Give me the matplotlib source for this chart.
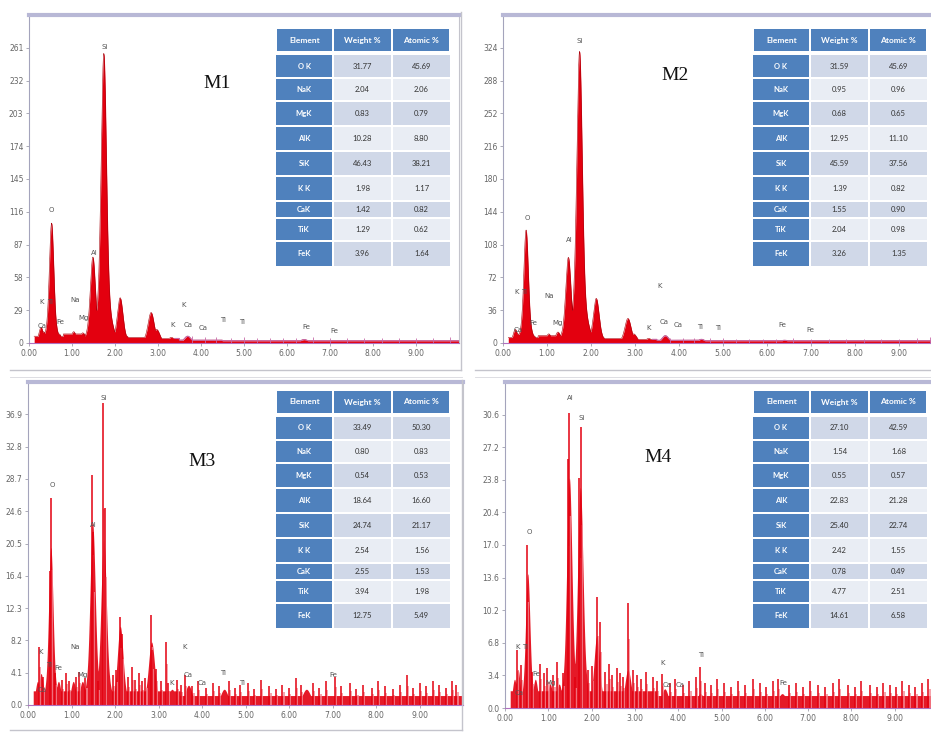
import numpy as np
import matplotlib
matplotlib.use("Agg")
import matplotlib.pyplot as plt
from matplotlib.lines import Line2D
from matplotlib.patches import Rectangle

W, H = 931, 732

# ---- quantification tables ----
elements = ["O K", "NaK", "MgK", "AlK", "SiK", "K K", "CaK", "TiK", "FeK"]
m1_weight = [31.77, 2.04, 0.83, 10.28, 46.43, 1.98, 1.42, 1.29, 3.96]
m1_atomic = [45.69, 2.06, 0.79, 8.80, 38.21, 1.17, 0.82, 0.62, 1.64]
m2_weight = [31.59, 0.95, 0.68, 12.95, 45.59, 1.39, 1.55, 2.04, 3.26]
m2_atomic = [45.69, 0.96, 0.65, 11.10, 37.56, 0.82, 0.90, 0.98, 1.35]
m3_weight = [33.49, 0.80, 0.54, 18.64, 24.74, 2.54, 2.55, 3.94, 12.75]
m3_atomic = [50.30, 0.83, 0.53, 16.60, 21.17, 1.56, 1.53, 1.98, 5.49]
m4_weight = [27.10, 1.54, 0.55, 22.83, 25.40, 2.42, 0.78, 4.77, 14.61]
m4_atomic = [42.59, 1.68, 0.57, 21.28, 22.74, 1.55, 0.49, 2.51, 6.58]

# ---- spectra: peaks (keV, counts), continuum steps, single-channel spikes ----
m1_ystep = 29
m1_peak_kev = [0.28, 0.34, 0.525, 0.70, 1.04, 1.25, 1.486, 1.74, 2.12, 2.84, 2.97, 3.31, 3.69, 6.40]
m1_peak_cts = [14, 10, 106, 8, 10, 9, 76, 256, 40, 27, 12, 5, 6, 3]
m1_floor_kev = [0.15, 0.8, 1.3, 2.3, 3.0, 3.5, 4.5, 10.0]
m1_floor_cts = [6, 8, 6, 5, 4, 2.5, 2]
m1_spike_kev = [3.8, 4.1, 4.35, 4.7, 5.0, 5.3, 5.6, 5.9, 6.2, 6.6, 7.0, 7.4, 7.8, 8.2, 8.6, 9.0, 9.4, 9.8]
m1_spike_cts = [6, 5, 5, 4, 5, 4, 4, 4, 4, 5, 4, 4, 4, 4, 4, 4, 4, 5]
m1_lbl = ["Si", "O", "Al", "K", "Ti", "Ca", "Fe", "Na", "Mg", "K", "K", "Ca", "Ca", "Ti", "Ti", "Fe", "Fe"]
m1_lbl_kev = [1.77, 0.53, 1.51, 0.30, 0.49, 0.30, 0.72, 1.07, 1.26, 3.60, 3.33, 3.70, 4.05, 4.51, 4.95, 6.44, 7.09]
m1_lbl_cts = [262, 118, 80, 36, 36, 15, 19, 38, 22, 34, 16, 16, 13, 20, 19, 14, 11]

m2_ystep = 36
m2_peak_kev = [0.28, 0.34, 0.525, 0.70, 1.04, 1.25, 1.486, 1.74, 2.12, 2.84, 2.97, 3.31, 3.69, 4.51, 6.40]
m2_peak_cts = [15, 10, 124, 8, 10, 12, 94, 320, 49, 27, 10, 5, 8, 4, 3]
m2_floor_kev = [0.15, 0.8, 1.3, 2.3, 3.0, 3.5, 4.5, 10.0]
m2_floor_cts = [6, 8, 6, 5, 4, 3, 2.5]
m2_spike_kev = [3.8, 4.1, 4.35, 4.7, 5.0, 5.3, 5.6, 5.9, 6.2, 6.6, 7.0, 7.4, 7.8, 8.2, 8.6, 9.0, 9.4, 9.7]
m2_spike_cts = [6, 5, 5, 5, 5, 4, 4, 4, 4, 5, 4, 4, 4, 4, 4, 4, 5, 7]
m2_lbl = ["Si", "O", "Al", "K", "Ti", "Na", "Fe", "Mg", "Ca", "K", "K", "Ca", "Ca", "Ti", "Ti", "Fe", "Fe"]
m2_lbl_kev = [1.75, 0.55, 1.50, 0.32, 0.48, 1.05, 0.70, 1.23, 0.34, 3.57, 3.30, 3.66, 3.98, 4.48, 4.89, 6.34, 6.98]
m2_lbl_cts = [331, 137, 113, 56, 56, 52, 22, 22, 14, 63, 16, 23, 20, 18, 16, 20, 14]

m3_ystep = 4.1
m3_peak_kev = [0.22, 0.30, 0.525, 0.70, 1.04, 1.25, 1.486, 1.74, 2.12, 2.84, 3.31, 3.69, 4.51, 6.40]
m3_peak_cts = [3, 4, 20, 3, 3, 3, 23, 21, 10, 8, 2, 2.5, 2, 2]
m3_floor_kev = [0.1, 3.5, 10.0]
m3_floor_cts = [1.8, 1.2]
m3_spike_kev = [0.26, 0.50, 0.52, 1.47, 1.50, 1.72, 1.76, 2.11, 2.16, 2.83, 2.86, 3.18,
                0.35, 0.62, 0.78, 0.88, 0.95, 1.10, 1.18, 1.32, 1.60, 1.95, 2.02, 2.30,
                2.38, 2.45, 2.55, 2.62, 2.70, 2.95, 3.05, 3.22, 3.42, 3.52, 3.60, 3.78,
                3.90, 4.10, 4.25, 4.38, 4.62, 4.75, 4.88, 5.05, 5.20, 5.35, 5.55, 5.70,
                5.85, 6.00, 6.15, 6.28, 6.55, 6.70, 6.85, 7.05, 7.20, 7.40, 7.55, 7.70,
                7.90, 8.05, 8.20, 8.40, 8.55, 8.72, 8.85, 9.00, 9.15, 9.30, 9.45, 9.60,
                9.75, 9.85]
m3_spike_cts = [7.4, 17, 26.3, 29.2, 22, 38.3, 25, 11.2, 9, 11.4, 7, 8,
                3.5, 4.0, 3.2, 4.1, 3.0, 3.6, 4.2, 3.4, 3.0, 3.8, 4.5, 3.6,
                4.8, 3.2, 4.0, 3.0, 3.4, 4.6, 3.0, 2.8, 3.2, 2.6, 3.8, 2.4,
                3.0, 2.2, 2.8, 2.4, 3.0, 2.2, 2.6, 2.8, 2.0, 3.2, 2.4, 2.0,
                2.6, 2.2, 3.4, 2.6, 2.8, 2.2, 3.0, 3.6, 2.4, 2.8, 2.0, 2.6,
                2.2, 3.0, 2.4, 2.0, 2.6, 3.8, 2.2, 2.8, 2.4, 3.0, 2.6, 2.2,
                3.0, 2.6]
m3_lbl = ["Si", "O", "Al", "K", "Ti", "Fe", "Na", "Mg", "Ca", "K", "K", "Ca", "Ca", "Ti", "Ti", "Fe"]
m3_lbl_kev = [1.75, 0.55, 1.49, 0.30, 0.48, 0.69, 1.08, 1.26, 0.32, 3.31, 3.59, 3.68, 4.00, 4.48, 4.92, 7.01]
m3_lbl_cts = [39, 27.9, 22.8, 6.7, 5.1, 4.7, 7.4, 3.8, 1.9, 2.8, 7.4, 3.8, 2.8, 4.1, 2.8, 3.8]

m4_ystep = 3.4
m4_peak_kev = [0.22, 0.30, 0.525, 0.70, 1.04, 1.25, 1.486, 1.74, 2.12, 2.84, 3.31, 3.69, 4.51, 6.40]
m4_peak_cts = [3, 4, 14, 3, 2.5, 2.5, 24, 23, 7.5, 4, 1.5, 2, 1.5, 1.5]
m4_floor_kev = [0.1, 3.5, 10.0]
m4_floor_cts = [1.8, 1.3]
m4_spike_kev = [0.28, 0.51, 1.46, 1.48, 1.72, 1.75, 2.12, 2.20, 2.85, 4.50, 3.62,
                0.36, 0.62, 0.80, 0.90, 0.98, 1.12, 1.20, 1.33, 1.62, 1.92, 2.00, 2.32,
                2.40, 2.48, 2.58, 2.66, 2.72, 2.95, 3.05, 3.15, 3.25, 3.42, 3.52, 3.80,
                3.92, 4.12, 4.26, 4.40, 4.62, 4.76, 4.90, 5.05, 5.22, 5.38, 5.55, 5.72,
                5.88, 6.02, 6.18, 6.30, 6.55, 6.72, 6.88, 7.05, 7.22, 7.40, 7.58, 7.72,
                7.92, 8.08, 8.22, 8.42, 8.58, 8.74, 8.88, 9.02, 9.18, 9.32, 9.48, 9.62,
                9.78, 9.86]
m4_spike_cts = [6, 17, 26, 30.8, 24, 29.3, 11.6, 9, 11, 4.3, 3.5,
                4.5, 3.8, 4.6, 3.6, 4.2, 3.4, 4.8, 3.6, 3.2, 4.0, 4.4, 3.8,
                4.6, 3.4, 4.2, 3.6, 3.2, 4.0, 3.4, 3.0, 3.8, 3.2, 2.8, 2.6,
                3.0, 2.4, 2.8, 3.2, 2.6, 2.4, 3.0, 2.6, 2.2, 2.8, 2.4, 3.0,
                2.6, 2.2, 2.8, 3.0, 2.4, 2.6, 2.2, 2.8, 2.4, 2.2, 2.6, 3.0,
                2.4, 2.2, 2.8, 2.4, 2.2, 2.6, 2.4, 2.2, 2.8, 2.4, 2.2, 2.6,
                3.0, 3.4]
m4_lbl = ["Al", "Si", "O", "K", "Ti", "Fe", "Mg", "Ca", "K", "Ca", "Ca", "Ti", "Fe"]
m4_lbl_kev = [1.50, 1.78, 0.55, 0.30, 0.46, 0.72, 1.06, 0.32, 3.63, 3.74, 4.04, 4.53, 6.42]
m4_lbl_cts = [32.3, 30.2, 18.4, 6.4, 6.4, 3.5, 2.6, 1.6, 4.7, 2.4, 2.4, 5.5, 2.6]

RED = "#e3000f"
DARK = "#a8000a"
PINK = "#c86aa8"
HEAD = "#4f81bd"
BAND = ["#d0d8e8", "#e9edf4"]

fig = plt.figure(figsize=(W / 100, H / 100), dpi=100)
fig.patch.set_facecolor("white")

chan = np.arange(0.12, 10.0, 0.005)


def px_axes(left, top, right, bottom):
    return fig.add_axes([left / W, 1 - bottom / H, (right - left) / W, (bottom - top) / H])


def fig_line(x0, y0, x1, y1, color="#c4c4cc", lw=1.0):
    fig.add_artist(Line2D([x0 / W, x1 / W], [1 - y0 / H, 1 - y1 / H], color=color, lw=lw))


def counts(peak_kev, peak_cts, floor_kev, floor_cts):
    # continuum as steps, peaks broadened with the detector resolution plus a low tail
    idx = np.searchsorted(floor_kev, chan, side="right") - 1
    idx = np.clip(idx, 0, len(floor_cts) - 1)
    y = np.asarray(floor_cts, float)[idx]
    for e, c in zip(peak_kev, peak_cts):
        s = np.sqrt(0.1 ** 2 + 0.005 * e) / 2.355
        d = (chan - e) / s
        shape = 0.82 * np.exp(-0.5 * d ** 2) + 0.18 * np.exp(-0.5 * (d / 2.5) ** 2)
        y = np.maximum(y, c * shape)
    return y


def panel(box, ystep, pk, pc, fk, fc, sk, sc, lbl, lk, lc, noisy, title, tpos):
    ax = px_axes(*box)
    ax.set_xlim(0, 10)
    ax.set_ylim(0, 10 * ystep)
    y = counts(pk, pc, fk, fc)
    if noisy:
        ax.fill_between(chan, 0, y, color=RED, lw=0, alpha=0.9)
        ax.vlines(np.asarray(sk) + 0.025, 0, np.asarray(sc) * 0.65, color="#f48a95", lw=1.1)
        ax.vlines(sk, 0, sc, color=RED, lw=1.1)
    else:
        ax.fill_between(chan, 0, y, color=RED, lw=0)
        ax.plot(chan, y, color=DARK, lw=0.4)
        hi = chan > 3.4
        ax.plot(chan[hi], y[hi], color=PINK, lw=0.8)
        ax.vlines(sk, 0, sc, color=PINK, lw=0.6)
    for t, e, c in zip(lbl, lk, lc):
        ax.text(e, c, t, fontsize=5, color="#555555", ha="center", va="center")

    ax.set_xticks(np.arange(0, 10))
    ax.set_xticklabels([f"{v:.2f}" for v in range(10)])
    ticks = [i * ystep for i in range(10)]
    ax.set_yticks(ticks)
    if isinstance(ystep, int):
        ax.set_yticklabels([str(v) for v in ticks])
    else:
        ax.set_yticklabels([f"{v:.1f}" for v in ticks])
    ax.tick_params(length=2, width=0.5, colors="#8a8a9a", labelcolor="#666666",
                   labelsize=5.5, pad=2)
    ax.spines["top"].set_color("#b8b8d6")
    ax.spines["top"].set_linewidth(3)
    ax.spines["left"].set_color("#a4a4bc")
    ax.spines["left"].set_linewidth(0.8)
    ax.spines["right"].set_color("#c4c4cc")
    ax.spines["bottom"].set_color("#b070c0")
    ax.spines["bottom"].set_linewidth(0.8)
    ax.set_facecolor("white")

    fig.text(tpos[0] / W, 1 - tpos[1] / H, title, family="Liberation Serif",
             fontsize=14, ha="center", va="center", color="#111111")
    return ax


def table(x0, y0, weight, atomic):
    heights = [22, 21, 23, 23, 23, 23, 15, 21, 24]
    total = 22 + 4 + sum(heights) + 2 * (len(heights) - 1)
    ax = fig.add_axes([x0 / W, 1 - (y0 + total) / H, 174 / W, total / H])
    ax.set_xlim(0, 174)
    ax.set_ylim(total, 0)
    ax.axis("off")
    cols = [0, 57, 116, 174]
    head = ["Element", "Weight %", "Atomic %"]
    for j in range(3):
        ax.add_patch(Rectangle((cols[j] + 1, 0), cols[j + 1] - cols[j] - 2, 22,
                               color=HEAD, lw=0))
        ax.text((cols[j] + cols[j + 1]) / 2, 11, head[j], color="white", fontsize=6,
                fontweight="bold", ha="center", va="center", family="Lato")
    top = 26
    for i, h in enumerate(heights):
        ax.add_patch(Rectangle((0, top), 56, h, color=HEAD, lw=0))
        ax.text(28, top + h / 2, elements[i], color="white", fontsize=5.5,
                fontweight="bold", ha="center", va="center", family="Lato")
        band = BAND[i % 2]
        ax.add_patch(Rectangle((58, top), 57, h, color=band, lw=0))
        ax.add_patch(Rectangle((117, top), 57, h, color=band, lw=0))
        ax.text(86.5, top + h / 2, f"{weight[i]:.2f}", color="#333333", fontsize=5.5,
                ha="center", va="center", family="Lato")
        ax.text(145.5, top + h / 2, f"{atomic[i]:.2f}", color="#333333", fontsize=5.5,
                ha="center", va="center", family="Lato")
        top += h + 2


# frames around each captured spectrum window
fig_line(461, 12, 461, 370)
fig_line(10, 370, 461, 370)
fig_line(475, 370, 931, 370)
fig_line(10, 377, 462, 377, color="#d8d8de", lw=0.6)
fig_line(475, 377, 931, 377, color="#d8d8de", lw=0.6)
fig_line(462, 380, 462, 730)
fig_line(10, 730, 462, 730)

panel((29, 15, 459, 343), m1_ystep, m1_peak_kev, m1_peak_cts, m1_floor_kev, m1_floor_cts,
      m1_spike_kev, m1_spike_cts, m1_lbl, m1_lbl_kev, m1_lbl_cts, False, "M1", (217, 83))
panel((503, 15, 943, 343), m2_ystep, m2_peak_kev, m2_peak_cts, m2_floor_kev, m2_floor_cts,
      m2_spike_kev, m2_spike_cts, m2_lbl, m2_lbl_kev, m2_lbl_cts, False, "M2", (675, 75))
panel((28, 382, 463, 705), m3_ystep, m3_peak_kev, m3_peak_cts, m3_floor_kev, m3_floor_cts,
      m3_spike_kev, m3_spike_cts, m3_lbl, m3_lbl_kev, m3_lbl_cts, True, "M3", (202, 462))
panel((505, 382, 938, 708), m4_ystep, m4_peak_kev, m4_peak_cts, m4_floor_kev, m4_floor_cts,
      m4_spike_kev, m4_spike_cts, m4_lbl, m4_lbl_kev, m4_lbl_cts, True, "M4", (658, 457))

table(276, 29, m1_weight, m1_atomic)
table(753, 29, m2_weight, m2_atomic)
table(276, 391, m3_weight, m3_atomic)
table(753, 391, m4_weight, m4_atomic)

fig.savefig("out.png", dpi=100)
